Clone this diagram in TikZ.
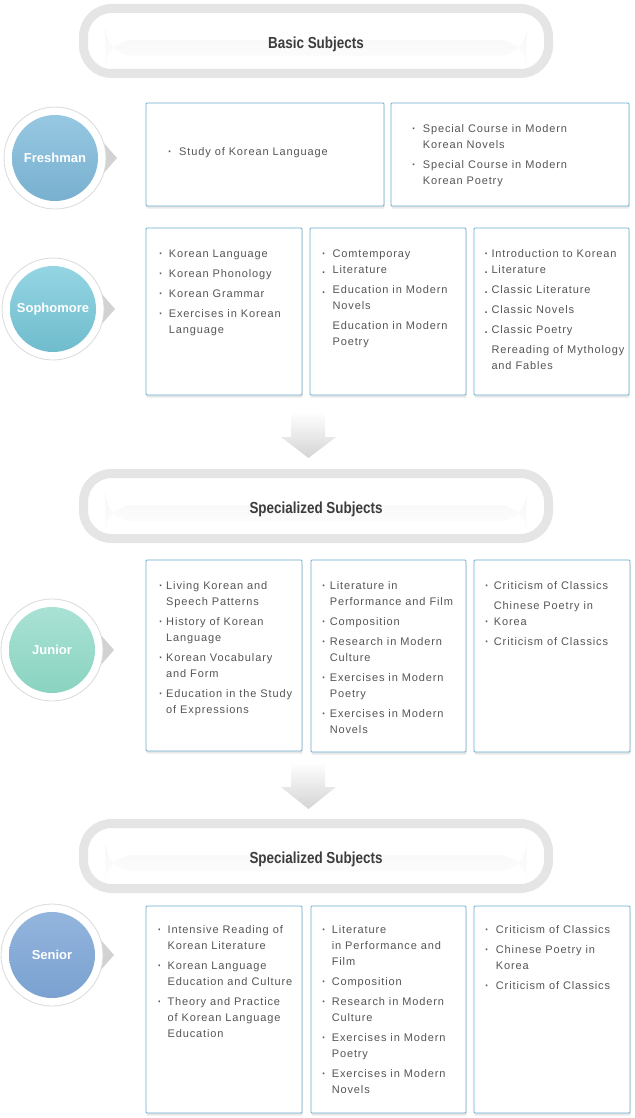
\documentclass[tikz,border=0pt]{standalone}
\usepackage{fontspec}
\setmainfont{Liberation Sans}
\newfontfamily\itemfont[LetterSpace=8]{Liberation Sans}
\newfontfamily\headfont[FakeStretch=0.84]{Liberation Sans}
\usetikzlibrary{fit,shadows}
\definecolor{pillgray}{HTML}{E5E5E5}
\definecolor{bandgray}{HTML}{F3F3F3}
\definecolor{headgray}{HTML}{3D3D3D}
\definecolor{itemgray}{HTML}{555555}
\definecolor{boxblue}{HTML}{6AAED0}
\definecolor{ringgray}{HTML}{DADADA}
\definecolor{ptrgray}{HTML}{D2D2D2}
\definecolor{arrowgray}{HTML}{D4D4D4}
\definecolor{frTop}{HTML}{97C8E2}\definecolor{frBot}{HTML}{78B0CF}
\definecolor{soTop}{HTML}{95D5E3}\definecolor{soBot}{HTML}{6FBCCD}
\definecolor{juTop}{HTML}{A9E2D5}\definecolor{juBot}{HTML}{8AD3C1}
\definecolor{seTop}{HTML}{93B5DD}\definecolor{seBot}{HTML}{7AA1D0}
\newcommand\itemlines[3]{\foreach \yy/\txt [count=\i] in {#3} {\node[itm] (#1-\i) at (#2,\yy) {\txt};}}
\newcommand\itembullets[3]{\foreach \yy/\bb [count=\i] in {#3} {\node[itm, font=\itemfont\bfseries\fontsize{11pt}{13pt}\selectfont] (#1b-\i) at (#2,\yy) {\bb};}}
\newcommand\yearbadge[6]{%
  \fill[ptrgray] (#2+40,#3-25) -- (#2+62,#3) -- (#2+40,#3+25) -- cycle;
  \node[yout] (#1o) at (#2,#3) {};
  \node[yin, top color=#4, bottom color=#5] (#1) at (#2,#3) {#6};}
\begin{document}
\begin{tikzpicture}[x=1pt,y=-1pt,
  pill/.style={draw=pillgray, line width=9pt, fill=white, rounded corners=28pt,
    minimum width=465pt, minimum height=65pt, inner sep=0pt,
    text height=14.5pt, text depth=0pt,
    font=\headfont\bfseries\fontsize{16pt}{19pt}\selectfont, text=headgray,
    path picture={\shade[top color=bandgray, bottom color=white]
      ([xshift=22pt,yshift=1pt]path picture bounding box.west) rectangle
      ([xshift=-22pt,yshift=-15pt]path picture bounding box.east);}},
  cbox/.style={draw=boxblue, line width=0.9pt, fill=white, inner sep=0pt, rounded corners=1pt,
    drop shadow={shadow xshift=0.5pt, shadow yshift=-2.5pt, opacity=1, fill=black!9}},
  itm/.style={anchor=base west, inner sep=0pt, font=\itemfont\fontsize{11pt}{13pt}\selectfont, text=itemgray},
  yout/.style={circle, minimum size=102pt, inner sep=0pt, draw=ringgray, line width=0.8pt, fill=white},
  yin/.style={circle, minimum size=86pt, inner sep=0pt, font=\bfseries\fontsize{13pt}{15pt}\selectfont, text=white},
  darrow/.style={top color=white, bottom color=arrowgray, draw=none}]
\useasboundingbox (0,0) rectangle (634,1118);

% headers
\node[pill] (basic) at (316,41) {Basic Subjects};
\node[pill] (spec1) at (316,506) {Specialized Subjects};
\node[pill] (spec2) at (316,856) {Specialized Subjects};

% down arrows
\shade[darrow] (291,412) -- (325,412) -- (325,437) -- (336,437) -- (308.5,458) -- (281,437) -- (291,437) -- cycle;
\shade[darrow] (291,762) -- (325,762) -- (325,787) -- (336,787) -- (308.5,809) -- (281,787) -- (291,787) -- cycle;

% year badges
\yearbadge{fresh}{55}{158}{frTop}{frBot}{Freshman}
\yearbadge{soph}{53}{309}{soTop}{soBot}{Sophomore}
\yearbadge{jun}{52}{650}{juTop}{juBot}{Junior}
\yearbadge{sen}{52}{955}{seTop}{seBot}{Senior}

% boxes
\node[cbox, fit={(146,103)(384,206)}] (f1) {};
\node[cbox, fit={(391,103)(629,206)}] (f2) {};
\node[cbox, fit={(146,228)(302,395)}] (s1) {};
\node[cbox, fit={(310,228)(466,395)}] (s2) {};
\node[cbox, fit={(474,228)(629,395)}] (s3) {};
\node[cbox, fit={(146,560)(302,751)}] (j1) {};
\node[cbox, fit={(311,560)(466,752)}] (j2) {};
\node[cbox, fit={(474,560)(630,752)}] (j3) {};
\node[cbox, fit={(146,906)(302,1113)}] (e1) {};
\node[cbox, fit={(311,906)(466,1113)}] (e2) {};
\node[cbox, fit={(474,906)(630,1113)}] (e3) {};

% freshman
\itembullets{f1}{168}{156/·}
\itemlines{f1}{179}{156/Study of Korean Language}
\itembullets{f2}{412}{133/·,169/·}
\itemlines{f2}{422.6}{133/Special Course in Modern,149/Korean Novels,169/Special Course in Modern,185/Korean Poetry}

% sophomore
\itembullets{s1}{159}{257/·,277/·,297/·,317/·}
\itemlines{s1}{168.6}{257/Korean Language,277/Korean Phonology,297/Korean Grammar,317/Exercises in Korean,333/Language}
\itembullets{s2}{322}{257/·,273/.,293/.}
\itemlines{s2}{332.4}{257/Comtemporay,273/Literature,293/Education in Modern,309/Novels,329/Education in Modern,345/Poetry}
\itembullets{s3}{484.5}{257/·,273/.,293/.,313/.,333/.}
\itemlines{s3}{491.3}{257/Introduction to Korean,273/Literature,293/Classic Literature,313/Classic Novels,333/Classic Poetry,353/Rereading of Mythology,369/and Fables}

% junior
\itembullets{j1}{159}{589/·,625/·,661/·,697/·}
\itemlines{j1}{166}{589/Living Korean and,605/Speech Patterns,625/History of Korean,641/Language,661/Korean Vocabulary,677/and Form,697/Education in the Study,713/of Expressions}
\itembullets{j2}{322}{589/·,625/·,645/·,681/·,717/·}
\itemlines{j2}{329.6}{589/Literature in,605/Performance and Film,625/Composition,645/Research in Modern,661/Culture,681/Exercises in Modern,697/Poetry,717/Exercises in Modern,733/Novels}
\itembullets{j3}{485}{589/·,625/·,645/·}
\itemlines{j3}{493.7}{589/Criticism of Classics,609/Chinese Poetry in,625/Korea,645/Criticism of Classics}

% senior
\itembullets{e1}{157.7}{933/·,969/·,1005/·}
\itemlines{e1}{167.4}{933/Intensive Reading of,949/Korean Literature,969/Korean Language,985/Education and Culture,1005/Theory and Practice,1021/of Korean Language,1037/Education}
\itembullets{e2}{322}{933/·,985/·,1005/·,1041/·,1077/·}
\itemlines{e2}{331.6}{933/Literature,949/in Performance and,965/Film,985/Composition,1005/Research in Modern,1021/Culture,1041/Exercises in Modern,1057/Poetry,1077/Exercises in Modern,1093/Novels}
\itembullets{e3}{485}{933/·,953/·,989/·}
\itemlines{e3}{495.7}{933/Criticism of Classics,953/Chinese Poetry in,969/Korea,989/Criticism of Classics}
\end{tikzpicture}
\end{document}
